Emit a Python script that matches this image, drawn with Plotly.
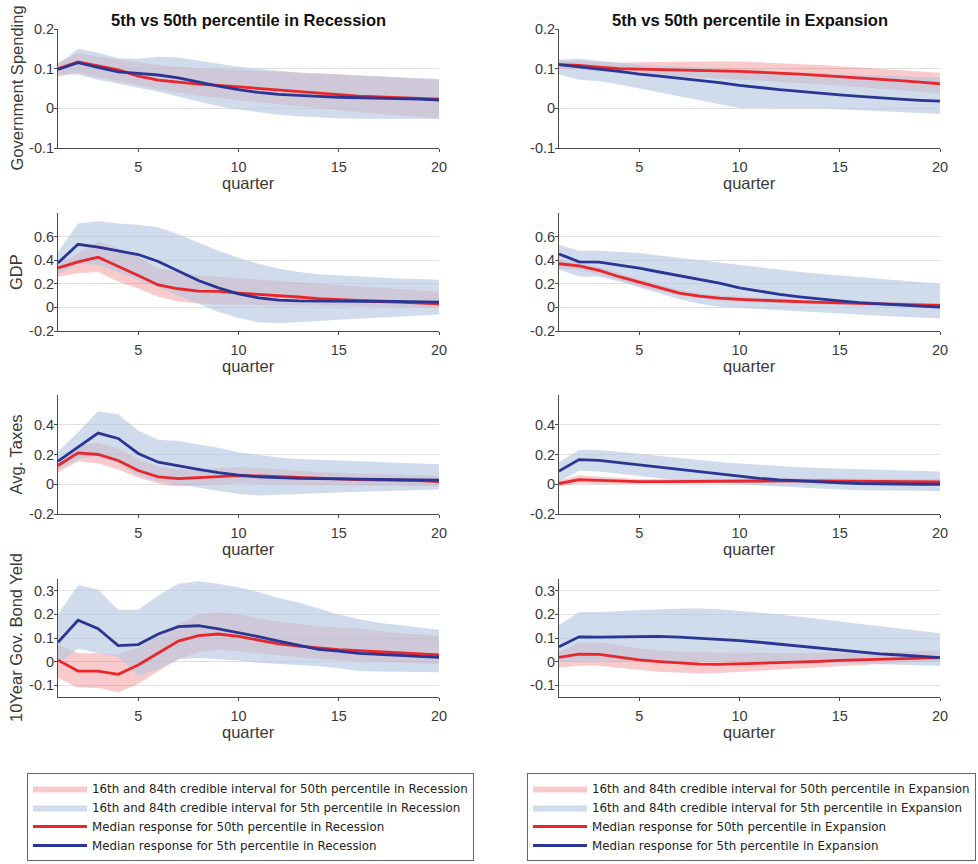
import plotly.graph_objects as go

quarters = list(range(1, 21))
x_ticks = [5, 10, 15, 20]

col_titles = ["5th vs 50th percentile in Recession", "5th vs 50th percentile in Expansion"]
row_labels = ["Government Spending", "GDP", "Avg. Taxes", "10Year Gov. Bond Yeld"]
x_label = "quarter"
regimes = ["Recession", "Expansion"]

# ---------------- Government Spending ----------------
gs_rec_med50 = [0.100, 0.117, 0.107, 0.097, 0.081, 0.071, 0.066, 0.061, 0.058, 0.054, 0.050, 0.046, 0.042, 0.038, 0.034, 0.031, 0.029, 0.027, 0.025, 0.023]
gs_rec_med5 = [0.098, 0.115, 0.103, 0.092, 0.088, 0.084, 0.077, 0.066, 0.056, 0.047, 0.040, 0.035, 0.032, 0.030, 0.028, 0.027, 0.026, 0.025, 0.023, 0.021]
gs_rec_hi50 = [0.115, 0.140, 0.130, 0.124, 0.116, 0.109, 0.105, 0.101, 0.099, 0.097, 0.095, 0.093, 0.091, 0.089, 0.086, 0.083, 0.080, 0.077, 0.074, 0.072]
gs_rec_lo50 = [0.080, 0.090, 0.078, 0.068, 0.058, 0.048, 0.040, 0.032, 0.026, 0.020, 0.015, 0.010, 0.005, 0.000, -0.005, -0.010, -0.014, -0.018, -0.022, -0.025]
gs_rec_hi5 = [0.110, 0.150, 0.140, 0.126, 0.125, 0.130, 0.128, 0.120, 0.112, 0.105, 0.100, 0.095, 0.090, 0.087, 0.085, 0.083, 0.080, 0.078, 0.076, 0.074]
gs_rec_lo5 = [0.085, 0.085, 0.072, 0.062, 0.052, 0.042, 0.030, 0.017, 0.005, -0.003, -0.010, -0.016, -0.020, -0.023, -0.025, -0.026, -0.027, -0.027, -0.027, -0.027]

gs_exp_med50 = [0.110, 0.108, 0.104, 0.100, 0.099, 0.098, 0.097, 0.096, 0.095, 0.093, 0.091, 0.089, 0.086, 0.083, 0.080, 0.077, 0.073, 0.070, 0.066, 0.062]
gs_exp_med5 = [0.110, 0.105, 0.099, 0.093, 0.086, 0.081, 0.076, 0.071, 0.065, 0.058, 0.052, 0.047, 0.043, 0.038, 0.034, 0.030, 0.026, 0.023, 0.020, 0.018]
gs_exp_hi50 = [0.120, 0.120, 0.117, 0.115, 0.116, 0.117, 0.118, 0.119, 0.119, 0.118, 0.116, 0.114, 0.112, 0.109, 0.106, 0.103, 0.100, 0.097, 0.094, 0.090]
gs_exp_lo50 = [0.100, 0.098, 0.092, 0.088, 0.085, 0.083, 0.081, 0.078, 0.076, 0.073, 0.070, 0.067, 0.064, 0.061, 0.058, 0.054, 0.050, 0.046, 0.042, 0.038]
gs_exp_hi5 = [0.123, 0.125, 0.120, 0.115, 0.110, 0.108, 0.105, 0.103, 0.100, 0.098, 0.095, 0.093, 0.090, 0.088, 0.086, 0.084, 0.082, 0.080, 0.079, 0.078]
gs_exp_lo5 = [0.085, 0.072, 0.068, 0.060, 0.050, 0.040, 0.030, 0.020, 0.010, 0.001, 0.000, 0.000, 0.000, 0.000, -0.002, -0.005, -0.008, -0.010, -0.012, -0.014]

# ---------------- GDP ----------------
gdp_rec_med50 = [0.335, 0.386, 0.425, 0.350, 0.270, 0.190, 0.158, 0.138, 0.135, 0.121, 0.112, 0.100, 0.088, 0.075, 0.065, 0.057, 0.050, 0.045, 0.040, 0.030]
gdp_rec_med5 = [0.377, 0.535, 0.510, 0.476, 0.448, 0.389, 0.310, 0.228, 0.165, 0.115, 0.080, 0.062, 0.056, 0.053, 0.052, 0.052, 0.052, 0.051, 0.050, 0.045]
gdp_rec_hi50 = [0.360, 0.460, 0.560, 0.500, 0.430, 0.330, 0.300, 0.270, 0.260, 0.250, 0.240, 0.225, 0.210, 0.200, 0.190, 0.180, 0.170, 0.160, 0.150, 0.135]
gdp_rec_lo50 = [0.260, 0.290, 0.300, 0.220, 0.160, 0.090, 0.050, 0.035, 0.025, 0.020, 0.017, 0.016, 0.015, 0.014, 0.012, 0.010, 0.008, 0.005, 0.002, 0.000]
gdp_rec_hi5 = [0.470, 0.710, 0.730, 0.710, 0.700, 0.680, 0.620, 0.550, 0.480, 0.420, 0.370, 0.330, 0.300, 0.280, 0.270, 0.260, 0.250, 0.245, 0.240, 0.235]
gdp_rec_lo5 = [0.280, 0.370, 0.360, 0.300, 0.230, 0.170, 0.100, 0.030, -0.040, -0.090, -0.125, -0.135, -0.125, -0.115, -0.105, -0.095, -0.085, -0.075, -0.068, -0.060]

gdp_exp_med50 = [0.370, 0.352, 0.313, 0.260, 0.214, 0.170, 0.121, 0.095, 0.078, 0.068, 0.060, 0.052, 0.046, 0.042, 0.038, 0.033, 0.028, 0.024, 0.021, 0.018]
gdp_exp_med5 = [0.453, 0.386, 0.383, 0.360, 0.332, 0.300, 0.270, 0.240, 0.205, 0.166, 0.135, 0.110, 0.090, 0.070, 0.055, 0.040, 0.028, 0.018, 0.010, 0.002]
gdp_exp_hi50 = [0.400, 0.380, 0.340, 0.290, 0.240, 0.195, 0.150, 0.120, 0.100, 0.090, 0.080, 0.072, 0.066, 0.060, 0.055, 0.050, 0.047, 0.043, 0.040, 0.038]
gdp_exp_lo50 = [0.330, 0.320, 0.280, 0.230, 0.180, 0.140, 0.100, 0.075, 0.055, 0.045, 0.038, 0.033, 0.028, 0.023, 0.018, 0.013, 0.010, 0.006, 0.003, 0.000]
gdp_exp_hi5 = [0.530, 0.480, 0.480, 0.470, 0.460, 0.440, 0.420, 0.400, 0.375, 0.360, 0.340, 0.320, 0.300, 0.285, 0.270, 0.255, 0.240, 0.225, 0.210, 0.200]
gdp_exp_lo5 = [0.320, 0.262, 0.260, 0.220, 0.170, 0.120, 0.070, 0.030, 0.005, -0.002, -0.010, -0.020, -0.030, -0.040, -0.050, -0.060, -0.070, -0.080, -0.088, -0.095]

# ---------------- Avg. Taxes ----------------
tax_rec_med50 = [0.126, 0.211, 0.200, 0.160, 0.092, 0.050, 0.038, 0.045, 0.055, 0.058, 0.056, 0.050, 0.044, 0.040, 0.036, 0.032, 0.030, 0.028, 0.025, 0.018]
tax_rec_med5 = [0.155, 0.250, 0.344, 0.308, 0.207, 0.148, 0.122, 0.100, 0.078, 0.061, 0.050, 0.043, 0.040, 0.038, 0.036, 0.034, 0.032, 0.030, 0.028, 0.027]
tax_rec_hi50 = [0.140, 0.260, 0.280, 0.240, 0.170, 0.120, 0.100, 0.100, 0.110, 0.115, 0.110, 0.100, 0.090, 0.083, 0.077, 0.072, 0.068, 0.064, 0.060, 0.057]
tax_rec_lo50 = [0.080, 0.155, 0.140, 0.100, 0.045, 0.005, -0.015, -0.010, 0.000, 0.005, 0.005, 0.000, -0.003, -0.005, -0.007, -0.008, -0.010, -0.010, -0.012, -0.013]
tax_rec_hi5 = [0.220, 0.350, 0.490, 0.470, 0.360, 0.300, 0.290, 0.270, 0.245, 0.215, 0.195, 0.180, 0.170, 0.165, 0.160, 0.155, 0.150, 0.145, 0.140, 0.135]
tax_rec_lo5 = [0.100, 0.170, 0.190, 0.140, 0.060, 0.020, 0.000, -0.020, -0.045, -0.065, -0.075, -0.075, -0.065, -0.060, -0.055, -0.050, -0.045, -0.040, -0.038, -0.035]

tax_exp_med50 = [0.005, 0.031, 0.026, 0.021, 0.018, 0.018, 0.019, 0.020, 0.022, 0.025, 0.025, 0.024, 0.023, 0.022, 0.021, 0.020, 0.019, 0.018, 0.017, 0.016]
tax_exp_med5 = [0.088, 0.166, 0.160, 0.145, 0.128, 0.110, 0.095, 0.080, 0.066, 0.052, 0.040, 0.030, 0.022, 0.015, 0.010, 0.005, 0.002, 0.000, 0.000, 0.000]
tax_exp_hi50 = [0.025, 0.060, 0.050, 0.040, 0.035, 0.035, 0.036, 0.038, 0.040, 0.042, 0.042, 0.042, 0.041, 0.040, 0.039, 0.038, 0.037, 0.036, 0.035, 0.035]
tax_exp_lo50 = [-0.015, 0.005, 0.002, 0.000, 0.000, 0.000, 0.002, 0.004, 0.005, 0.007, 0.008, 0.007, 0.006, 0.005, 0.004, 0.003, 0.002, 0.001, 0.000, 0.000]
tax_exp_hi5 = [0.150, 0.230, 0.230, 0.220, 0.205, 0.190, 0.175, 0.160, 0.150, 0.140, 0.130, 0.120, 0.115, 0.110, 0.105, 0.100, 0.095, 0.090, 0.088, 0.085]
tax_exp_lo5 = [0.020, 0.090, 0.085, 0.070, 0.055, 0.040, 0.028, 0.017, 0.008, 0.000, -0.008, -0.015, -0.022, -0.030, -0.035, -0.040, -0.042, -0.043, -0.044, -0.045]

# ---------------- 10Year Gov. Bond Yield ----------------
bond_rec_med50 = [0.006, -0.040, -0.040, -0.054, -0.014, 0.038, 0.087, 0.110, 0.117, 0.107, 0.090, 0.075, 0.066, 0.058, 0.051, 0.046, 0.042, 0.038, 0.034, 0.028]
bond_rec_med5 = [0.082, 0.175, 0.139, 0.068, 0.072, 0.117, 0.148, 0.152, 0.139, 0.124, 0.106, 0.087, 0.068, 0.052, 0.044, 0.035, 0.031, 0.027, 0.023, 0.018]
bond_rec_hi50 = [0.070, 0.035, 0.035, 0.030, 0.060, 0.110, 0.160, 0.200, 0.210, 0.200, 0.185, 0.170, 0.160, 0.150, 0.145, 0.140, 0.130, 0.120, 0.115, 0.107]
bond_rec_lo50 = [-0.070, -0.110, -0.112, -0.130, -0.095, -0.040, 0.010, 0.040, 0.050, 0.045, 0.035, 0.025, 0.018, 0.010, 0.005, 0.000, -0.003, -0.005, -0.007, -0.010]
bond_rec_hi5 = [0.200, 0.325, 0.305, 0.220, 0.220, 0.280, 0.330, 0.340, 0.330, 0.315, 0.295, 0.270, 0.250, 0.225, 0.200, 0.180, 0.165, 0.155, 0.145, 0.135]
bond_rec_lo5 = [-0.010, 0.056, 0.035, 0.022, -0.060, -0.030, 0.010, 0.015, 0.010, 0.005, -0.005, -0.010, -0.015, -0.020, -0.028, -0.040, -0.042, -0.044, -0.045, -0.045]

bond_exp_med50 = [0.018, 0.032, 0.031, 0.020, 0.007, 0.000, -0.007, -0.011, -0.012, -0.010, -0.008, -0.005, -0.002, 0.001, 0.005, 0.008, 0.011, 0.014, 0.016, 0.017]
bond_exp_med5 = [0.063, 0.105, 0.104, 0.106, 0.107, 0.107, 0.104, 0.100, 0.095, 0.089, 0.082, 0.074, 0.066, 0.058, 0.048, 0.040, 0.033, 0.028, 0.022, 0.017]
bond_exp_hi50 = [0.040, 0.080, 0.082, 0.070, 0.055, 0.048, 0.042, 0.040, 0.039, 0.038, 0.037, 0.036, 0.036, 0.036, 0.037, 0.038, 0.040, 0.042, 0.043, 0.045]
bond_exp_lo50 = [-0.025, -0.018, -0.018, -0.025, -0.035, -0.043, -0.048, -0.050, -0.048, -0.045, -0.040, -0.035, -0.030, -0.025, -0.020, -0.015, -0.010, -0.005, -0.002, 0.000]
bond_exp_hi5 = [0.155, 0.210, 0.210, 0.215, 0.220, 0.222, 0.224, 0.225, 0.222, 0.215, 0.208, 0.200, 0.190, 0.180, 0.170, 0.160, 0.150, 0.140, 0.130, 0.120]
bond_exp_lo5 = [0.000, 0.003, 0.005, 0.004, 0.002, 0.001, 0.000, 0.000, 0.000, -0.001, -0.002, -0.003, -0.004, -0.005, -0.006, -0.008, -0.010, -0.013, -0.016, -0.019]

# y-axis ranges and ticks per row
y_ranges = [[-0.1, 0.2], [-0.2, 0.8], [-0.2, 0.6], [-0.15, 0.35]]
y_tickvals = [[-0.1, 0, 0.1, 0.2], [-0.2, 0, 0.2, 0.4, 0.6], [-0.2, 0, 0.2, 0.4], [-0.1, 0, 0.1, 0.2, 0.3]]
y_ticktext = [["-0.1", "0", "0.1", "0.2"], ["-0.2", "0", "0.2", "0.4", "0.6"], ["-0.2", "0", "0.2", "0.4"], ["-0.1", "0", "0.1", "0.2", "0.3"]]

panels = [
    [(gs_rec_med50, gs_rec_med5, gs_rec_hi50, gs_rec_lo50, gs_rec_hi5, gs_rec_lo5),
     (gs_exp_med50, gs_exp_med5, gs_exp_hi50, gs_exp_lo50, gs_exp_hi5, gs_exp_lo5)],
    [(gdp_rec_med50, gdp_rec_med5, gdp_rec_hi50, gdp_rec_lo50, gdp_rec_hi5, gdp_rec_lo5),
     (gdp_exp_med50, gdp_exp_med5, gdp_exp_hi50, gdp_exp_lo50, gdp_exp_hi5, gdp_exp_lo5)],
    [(tax_rec_med50, tax_rec_med5, tax_rec_hi50, tax_rec_lo50, tax_rec_hi5, tax_rec_lo5),
     (tax_exp_med50, tax_exp_med5, tax_exp_hi50, tax_exp_lo50, tax_exp_hi5, tax_exp_lo5)],
    [(bond_rec_med50, bond_rec_med5, bond_rec_hi50, bond_rec_lo50, bond_rec_hi5, bond_rec_lo5),
     (bond_exp_med50, bond_exp_med5, bond_exp_hi50, bond_exp_lo50, bond_exp_hi5, bond_exp_lo5)],
]

# ---------------- styling ----------------
W, H = 978, 864
col_px = [(58, 439), (559, 940)]
row_px = [(29, 148), (213, 331), (395, 514), (579, 697)]

RED_BAND = "rgba(235,90,95,0.32)"
BLUE_BAND = "rgba(180,199,225,0.63)"
RED_LINE = "#e8262b"
BLUE_LINE = "#2b3593"
AX_COLOR = "#4a4a4a"
TXT_COLOR = "#3a3a3a"
GRID_COLOR = "#e0e0e0"
FONT = "Liberation Sans, Arial, sans-serif"
LEG_FONT = "DejaVu Sans, Liberation Sans, sans-serif"

fig = go.Figure()
layout_axes = {}
annotations = []

for r in range(4):
    for c in range(2):
        n = r * 2 + c + 1
        xa = "x" if n == 1 else f"x{n}"
        ya = "y" if n == 1 else f"y{n}"
        med50, med5, hi50, lo50, hi5, lo5 = panels[r][c]
        show = (r == 0)
        leg = "legend" if c == 0 else "legend2"
        reg = regimes[c]
        fig.add_trace(go.Scatter(
            x=quarters + quarters[::-1], y=hi50 + lo50[::-1], fill="toself",
            fillcolor=RED_BAND, line=dict(width=0), mode="lines",
            name=f"16th and 84th credible interval for 50th percentile in {reg}",
            showlegend=show, legend=leg, xaxis=xa, yaxis=ya, hoverinfo="skip"))
        fig.add_trace(go.Scatter(
            x=quarters + quarters[::-1], y=hi5 + lo5[::-1], fill="toself",
            fillcolor=BLUE_BAND, line=dict(width=0), mode="lines",
            name=f"16th and 84th credible interval for 5th percentile in {reg}",
            showlegend=show, legend=leg, xaxis=xa, yaxis=ya, hoverinfo="skip"))
        fig.add_trace(go.Scatter(
            x=quarters, y=med50, mode="lines", line=dict(color=RED_LINE, width=2.8),
            name=f"Median response for 50th percentile in {reg}",
            showlegend=show, legend=leg, xaxis=xa, yaxis=ya))
        fig.add_trace(go.Scatter(
            x=quarters, y=med5, mode="lines", line=dict(color=BLUE_LINE, width=2.8),
            name=f"Median response for 5th percentile in {reg}",
            showlegend=show, legend=leg, xaxis=xa, yaxis=ya))

        x0, x1 = col_px[c]
        y0, y1 = row_px[r]
        xkey = "xaxis" if n == 1 else f"xaxis{n}"
        ykey = "yaxis" if n == 1 else f"yaxis{n}"
        layout_axes[xkey] = dict(
            domain=[x0 / W, x1 / W], anchor=ya, range=[1, 20],
            tickvals=x_ticks, ticktext=[str(v) for v in x_ticks],
            showgrid=False, zeroline=False, showline=True, linecolor=AX_COLOR, linewidth=1,
            ticks="outside", ticklen=3, tickcolor=AX_COLOR, ticklabelstandoff=3,
            tickfont=dict(family=FONT, size=14.5, color=TXT_COLOR))
        layout_axes[ykey] = dict(
            domain=[1 - y1 / H, 1 - y0 / H], anchor=xa, range=y_ranges[r],
            tickvals=y_tickvals[r], ticktext=y_ticktext[r],
            showgrid=True, gridcolor=GRID_COLOR, gridwidth=1, zeroline=False,
            showline=True, linecolor=AX_COLOR, linewidth=1,
            ticks="outside", ticklen=3, tickcolor=AX_COLOR, ticklabelstandoff=-3,
            tickfont=dict(family=FONT, size=14.5, color=TXT_COLOR))

        # x-axis label
        annotations.append(dict(
            text=x_label, xref="paper", yref="paper",
            x=(x0 + x1) / 2 / W, y=1 - (y1 + 35) / H,
            xanchor="center", yanchor="middle", showarrow=False,
            font=dict(family=FONT, size=16.5, color=TXT_COLOR)))

    # y-axis label
    y0, y1 = row_px[r]
    annotations.append(dict(
        text=row_labels[r], xref="paper", yref="paper",
        x=16 / W, y=1 - (y0 + y1) / 2 / H, textangle=-90,
        xanchor="center", yanchor="middle", showarrow=False,
        font=dict(family=FONT, size=16.5, color=TXT_COLOR)))

for c in range(2):
    x0, x1 = col_px[c]
    annotations.append(dict(
        text=f"<b>{col_titles[c]}</b>", xref="paper", yref="paper",
        x=(x0 + x1) / 2 / W, y=1 - 20 / H, xanchor="center", yanchor="middle",
        showarrow=False, font=dict(family=FONT, size=16.5, color="#111111")))

legend_common = dict(
    xanchor="left", yanchor="top", bgcolor="white", bordercolor="#666666",
    borderwidth=1, font=dict(family=LEG_FONT, size=11.85, color="#222222"),
    itemwidth=54, tracegroupgap=0, traceorder="normal", itemclick=False)

fig.update_layout(
    width=W, height=H, margin=dict(l=0, r=0, t=0, b=0, autoexpand=False),
    paper_bgcolor="white", plot_bgcolor="white",
    showlegend=True,
    legend=dict(x=27 / W, y=1 - 773 / H, **legend_common),
    legend2=dict(x=527 / W, y=1 - 773 / H, **legend_common),
    annotations=annotations,
    **layout_axes)

fig.write_html("out.html")
